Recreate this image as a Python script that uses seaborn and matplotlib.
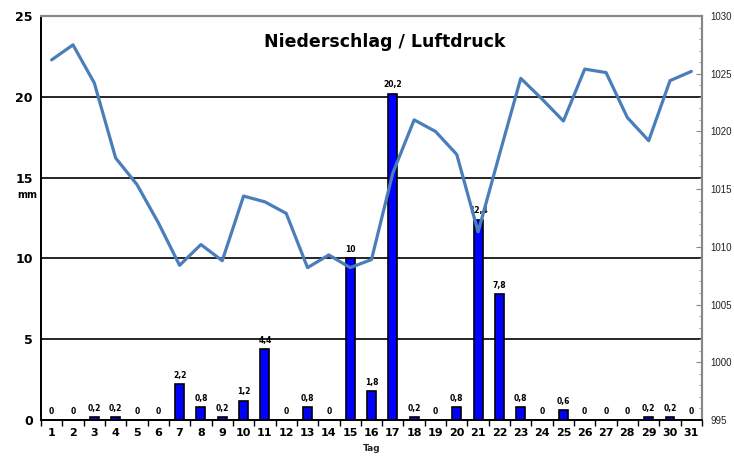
import numpy as np
import pandas as pd
import matplotlib.pyplot as plt
from matplotlib.ticker import MultipleLocator
import seaborn as sns

# Data
tage = list(range(1, 32))
niederschlag = [0, 0, 0.2, 0.2, 0, 0, 2.2, 0.8, 0.2, 1.2, 4.4, 0, 0.8, 0, 10, 1.8,
                20.2, 0.2, 0, 0.8, 12.4, 7.8, 0.8, 0, 0.6, 0, 0, 0, 0.2, 0.2, 0]
luftdruck = [1026.2, 1027.5, 1024.2, 1017.7, 1015.4, 1012.1, 1008.4, 1010.2, 1008.8,
             1014.4, 1013.9, 1012.9, 1008.2, 1009.3, 1008.2, 1008.9, 1016.4, 1021.0,
             1020.0, 1018.0, 1011.3, 1018.0, 1024.6, 1022.8, 1020.9, 1025.4, 1025.1,
             1021.2, 1019.2, 1024.4, 1025.2]

df = pd.DataFrame({'Tag': tage, 'mm': niederschlag, 'hPa': luftdruck})

sns.set_style('white')
plt.rcParams['font.family'] = ['DejaVu Sans']
plt.rcParams['text.color'] = 'black'
plt.rcParams['xtick.color'] = 'black'
plt.rcParams['ytick.color'] = 'black'

fig = plt.figure(figsize=(7.34, 4.62), dpi=100)
ax = fig.add_axes([41 / 734, 1 - 420 / 462, 661 / 734, 404 / 462])

# precipitation bars
sns.barplot(data=df, x='Tag', y='mm', native_scale=True, color='#0000FF',
            edgecolor='black', linewidth=1.2, width=0.42, saturation=1, ax=ax)
labels = [f'{v:g}'.replace('.', ',') for v in niederschlag]
ax.bar_label(ax.containers[0], labels=labels, padding=3, fontsize=5.5,
             fontweight='bold')

ax.set_xlim(0.5, 31.5)
ax.set_ylim(0, 25)
ax.set_yticks([0, 5, 10, 15, 20, 25])
ax.set_xticks(tage)
ax.xaxis.set_minor_locator(MultipleLocator(1, offset=0.5))
ax.tick_params(axis='x', which='major', length=0, labelsize=8, pad=6)
ax.tick_params(axis='x', which='minor', length=4, width=1, color='black',
               direction='out', bottom=True)
ax.tick_params(axis='y', length=0, labelsize=9, pad=6)
for t in ax.get_xticklabels() + ax.get_yticklabels():
    t.set_fontweight('bold')

for y in [5, 10, 15, 20]:
    ax.axhline(y, color='black', linewidth=1.2, zorder=0)

ax.set_xlabel('Tag', fontsize=6.5, fontweight='bold', labelpad=4)
ax.set_ylabel('')
ax.text(-0.021, 0.557, 'mm', transform=ax.transAxes, fontsize=7,
        fontweight='bold', ha='center', va='center')

# air pressure line on the secondary axis
ax2 = ax.twinx()
sns.lineplot(data=df, x='Tag', y='hPa', color='#4A7EBB', linewidth=2.3, ax=ax2)
ax2.set_ylim(995, 1030)
ax2.set_yticks(np.arange(995, 1031, 5))
ax2.yaxis.set_minor_locator(MultipleLocator(1))
ax2.tick_params(axis='y', which='major', direction='in', length=4, color='#888888',
                labelsize=7, labelcolor='#222222', pad=6)
ax2.tick_params(axis='y', which='minor', direction='in', length=2.5, color='#888888')
for t in ax2.get_yticklabels():
    t.set_fontfamily('Liberation Sans')
ax2.set_ylabel('')
ax2.set_xlabel('')

for a in [ax, ax2]:
    a.spines['left'].set_color('black')
    a.spines['left'].set_linewidth(1.3)
    a.spines['bottom'].set_color('black')
    a.spines['bottom'].set_linewidth(1.3)
    a.spines['right'].set_color('#888888')
    a.spines['right'].set_linewidth(1.5)
    a.spines['top'].set_color('#888888')
    a.spines['top'].set_linewidth(1.5)

ax2.text(0.52, 0.935, 'Niederschlag / Luftdruck', transform=ax2.transAxes,
         fontsize=12.5, fontweight='bold', ha='center', va='center')

fig.savefig('out.png', dpi=100)
